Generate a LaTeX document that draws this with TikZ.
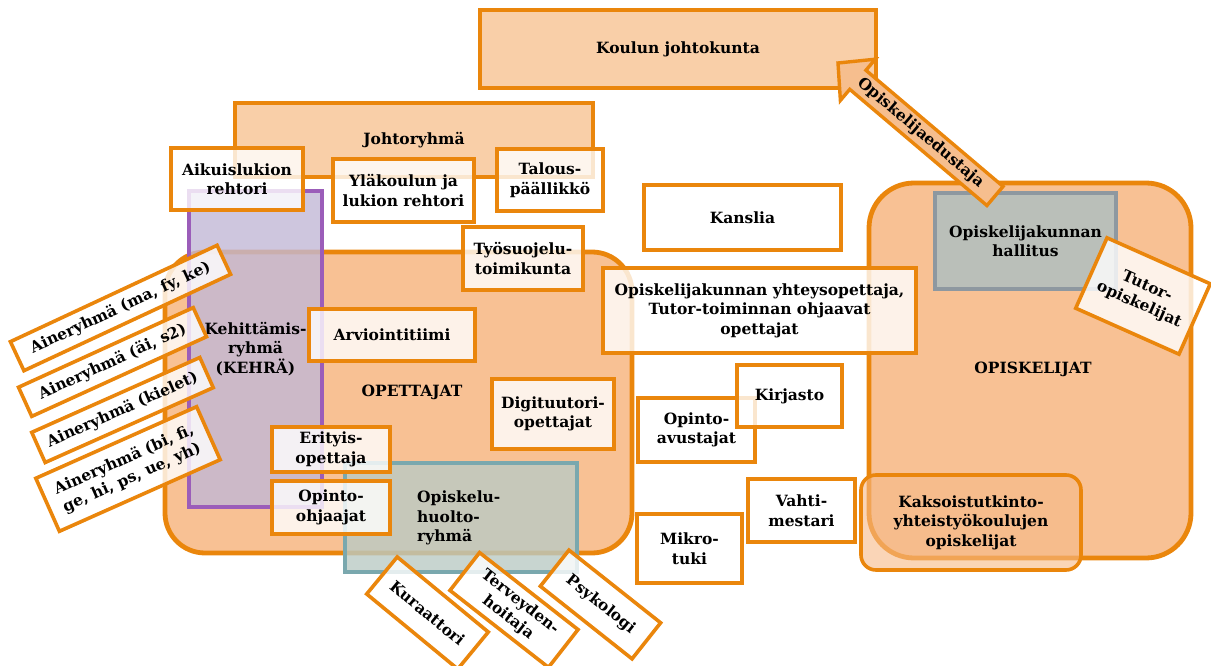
\documentclass[tikz,border=0pt]{standalone}
\usepackage{fontspec}
\setmainfont{DejaVu Serif}
\usetikzlibrary{calc}
\definecolor{orng}{RGB}{234,134,12}
\definecolor{lor}{RGB}{249,207,168}
\definecolor{mor}{RGB}{248,193,148}
\definecolor{arrfill}{RGB}{246,190,142}
\definecolor{purp}{RGB}{155,93,185}
\definecolor{lav}{RGB}{194,184,214}
\definecolor{teal}{RGB}{122,168,174}
\definecolor{sage}{RGB}{186,202,196}
\definecolor{gborder}{RGB}{142,152,160}
\definecolor{gfill}{RGB}{186,191,185}
\definecolor{kakfill}{RGB}{246,185,135}
\begin{document}
\begin{tikzpicture}[x=1pt,y=-1pt,
  every node/.style={font=\fontsize{15.5}{19.5}\selectfont\bfseries, align=center, inner sep=0pt, text=black},
  wbox/.style={draw=orng, line width=3.6pt, fill=white, fill opacity=0.8, text opacity=1, draw opacity=1, rectangle},
  obox/.style={draw=orng, line width=3.6pt, fill=lor, rectangle},
  bigbox/.style={draw=orng, line width=4.8pt, fill=mor, rectangle, rounded corners=40pt},
]
\useasboundingbox (0,0) rectangle (1211,666);

% top boxes
\node[obox, minimum width=396pt, minimum height=78pt] (kj) at (678,49) {Koulun johtokunta};
\node[obox, minimum width=358pt, minimum height=74pt] (jr) at (414,140) {Johtoryhmä};

% OPETTAJAT container
\node[bigbox, minimum width=467pt, minimum height=301pt] (opet) at (398.5,402.5) {};
\node (opett) at (412,392) {OPETTAJAT};
\node[draw=purp, line width=3.6pt, fill=lav, fill opacity=0.8, text opacity=1, draw opacity=1,
      minimum width=133pt, minimum height=316pt] (kehra) at (255.5,349) {Kehittämis-\\ryhmä\\(KEHRÄ)};
\node[draw=teal, line width=3.6pt, fill=sage, fill opacity=0.8, draw opacity=1,
      minimum width=232pt, minimum height=109pt] (ohr) at (461,517.5) {};
\node[anchor=west, align=left] (ohrt) at (417,518) {Opiskelu-\\huolto-\\ryhmä};

% OPISKELIJAT container
\node[bigbox, rounded corners=45pt, minimum width=322pt, minimum height=375pt] (opis) at (1030,370.5) {};
\node (opist) at (1033,369) {OPISKELIJAT};
\node[draw=gborder, line width=3.6pt, fill=gfill, minimum width=181pt, minimum height=96pt] (hall) at (1025.5,241) {Opiskelijakunnan\\hallitus};

% arrow Opiskelijaedustaja
\coordinate (aB) at (995,196);
\coordinate (aT) at (838,63);
\coordinate (aH) at ($(aT)!26pt!(aB)$);
\draw[orng, line width=3.4pt, fill=arrfill, line join=miter]
  ($(aB)!12.5pt!90:(aT)$) -- ($(aH)!12.5pt!-90:(aB)$) -- ($(aH)!27pt!-90:(aB)$) -- (aT)
  -- ($(aH)!27pt!90:(aB)$) -- ($(aH)!12.5pt!90:(aB)$) -- ($(aB)!12.5pt!-90:(aT)$) -- cycle;
\node[rotate=-40.3] (ped) at (920.5,133) {Opiskelijaedustaja};

% white boxes
\node[wbox, minimum width=132pt, minimum height=62pt] (aik) at (237,179) {Aikuislukion\\rehtori};
\node[wbox, minimum width=141pt, minimum height=63pt] (yla) at (403.5,190.5) {Yläkoulun ja\\lukion rehtori};
\node[wbox, minimum width=106pt, minimum height=62pt] (tal) at (550,180) {Talous-\\päällikkö};
\node[wbox, minimum width=120pt, minimum height=63pt] (tyo) at (523,258.5) {Työsuojelu-\\toimikunta};
\node[wbox, minimum width=166pt, minimum height=52pt] (arv) at (392,335) {Arviointitiimi};
\node[wbox, minimum width=122pt, minimum height=70pt] (dig) at (553,414) {Digituutori-\\opettajat};
\node[wbox, minimum width=118pt, minimum height=45pt] (eri) at (331,449.5) {Erityis-\\opettaja};
\node[wbox, minimum width=118pt, minimum height=53pt] (oo) at (331,507.5) {Opinto-\\ohjaajat};

\node[wbox, rotate=25, minimum width=228pt, minimum height=32pt] (ag1) at (120.5,308) {Aineryhmä (ma, fy, ke)};
\node[wbox, rotate=24.5, minimum width=192pt, minimum height=32pt] (ag2) at (112.5,362) {Aineryhmä (äi, s2)};
\node[wbox, rotate=24, minimum width=184pt, minimum height=33pt] (ag3) at (122.5,410) {Aineryhmä (kielet)};
\node[wbox, rotate=24, minimum width=176pt, minimum height=58pt] (ag4) at (128,469) {Aineryhmä (bi, fi,\\ge, hi, ps, ue, yh)};

\node[wbox, rotate=-39.5, minimum width=118pt, minimum height=48pt] (kur) at (427.5,613) {Kuraattori};
\node[wbox, rotate=-38, minimum width=125pt, minimum height=48pt] (ter) at (514,610) {Terveyden-\\hoitaja};
\node[wbox, rotate=-38.4, minimum width=117pt, minimum height=46pt] (psy) at (600.5,604.5) {Psykologi};

\node[wbox, minimum width=197pt, minimum height=65pt] (kan) at (742.5,217.5) {Kanslia};
\node[wbox, minimum width=313pt, minimum height=85pt] (yht) at (759.5,310.5) {Opiskelijakunnan yhteysopettaja,\\Tutor-toiminnan ohjaavat\\opettajat};
\node[wbox, minimum width=117pt, minimum height=64pt] (oav) at (696.5,430) {Opinto-\\avustajat};
\node[wbox, minimum width=105pt, minimum height=62pt] (kir) at (789.5,396) {Kirjasto};
\node[wbox, minimum width=107pt, minimum height=63pt] (vah) at (801.5,510.5) {Vahti-\\mestari};
\node[wbox, minimum width=105pt, minimum height=69pt] (mik) at (689.5,548.5) {Mikro-\\tuki};

\node[wbox, rotate=-24, minimum width=113pt, minimum height=77pt] (tut) at (1143,296) {Tutor-\\opiskelijat};
\node[draw=orng, line width=3.6pt, fill=kakfill, fill opacity=0.6, text opacity=1, draw opacity=1,
      rounded corners=15pt, minimum width=220pt, minimum height=95pt] (kak) at (971,522.5) {Kaksoistutkinto-\\yhteistyökoulujen\\opiskelijat};
\end{tikzpicture}
\end{document}
